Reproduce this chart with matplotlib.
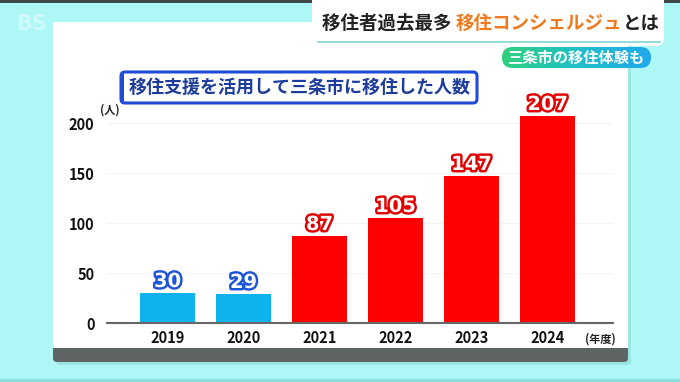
import numpy as np
import matplotlib
matplotlib.use('Agg')
import matplotlib.pyplot as plt
from matplotlib.patches import FancyBboxPatch, Rectangle
from matplotlib.colors import LinearSegmentedColormap
import matplotlib.patheffects as pe

plt.rcParams['font.family'] = ['Noto Sans CJK JP', 'DejaVu Sans']

# data
years = ['2019', '2020', '2021', '2022', '2023', '2024']
movers = [30, 29, 87, 105, 147, 207]
bar_colors = ['#0db2ef', '#0db2ef', '#fe0000', '#fe0000', '#fe0000', '#fe0000']
label_edges = ['#1d55d6', '#1d55d6', '#e00000', '#e00000', '#e00000', '#e00000']
yticks = [0, 50, 100, 150, 200]

headline_black = '移住者過去最多 '
headline_orange = '移住コンシェルジュ'
headline_tail = 'とは'
sub_caption = '三条市の移住体験も'
chart_title = '移住支援を活用して三条市に移住した人数'

W, H = 680, 382
fig = plt.figure(figsize=(W / 100, H / 100), dpi=100)
fig.patch.set_facecolor('#aef7f7')

# background layer in pixel coordinates (y downwards)
bg = fig.add_axes([0, 0, 1, 1])
bg.set_xlim(0, W)
bg.set_ylim(H, 0)
bg.axis('off')

bg.add_patch(Rectangle((0, 0), W, 3, color='#3e4848', lw=0))
bg.add_patch(Rectangle((0, 379), W, 3, color='#8ee0e0', lw=0))
bg.text(16, 24, 'BS', fontsize=15, fontweight='bold', color='white', alpha=0.4,
        va='center', ha='left', family='DejaVu Sans')

# panel shadow + gray foot + white panel
bg.add_patch(FancyBboxPatch((56, 25), 575, 340, boxstyle='round,pad=0,rounding_size=4',
                            fc='#8fd9d9', ec='none', alpha=0.6))
bg.add_patch(FancyBboxPatch((53, 22), 575, 340, boxstyle='round,pad=0,rounding_size=4',
                            fc='#5d6463', ec='none'))
bg.add_patch(Rectangle((53, 22), 575, 326, fc='white', ec='none'))

# headline box top right
bg.add_patch(FancyBboxPatch((312, -10), 352, 56, boxstyle='round,pad=0,rounding_size=8',
                            fc='white', ec='none'))
bg.plot([318, 660], [42, 42], color='#7fd6d6', lw=1.2)
fs_head = 13.3
t1 = bg.text(322, 23, headline_black, fontsize=fs_head, fontweight='bold', color='#222222',
             va='center', ha='left')
fig.canvas.draw()
inv = bg.transData.inverted()
x_next = inv.transform((t1.get_window_extent().x1, 0))[0]
t2 = bg.text(x_next, 23, headline_orange, fontsize=fs_head, fontweight='bold', color='#f07a1e',
             va='center', ha='left')
fig.canvas.draw()
x_next = inv.transform((t2.get_window_extent().x1, 0))[0]
bg.text(x_next, 23, headline_tail, fontsize=fs_head, fontweight='bold', color='#222222',
        va='center', ha='left')

# sub caption pill with gradient
pill = FancyBboxPatch((502, 47), 149, 21, boxstyle='round,pad=0,rounding_size=10.5',
                      fc='none', ec='none')
bg.add_patch(pill)
grad = np.linspace(0, 1, 256).reshape(1, -1)
cm = LinearSegmentedColormap.from_list('pill', ['#2fd07a', '#1fc0c8', '#21a8ec'])
im = bg.imshow(grad, extent=(502, 651, 68, 47), cmap=cm, aspect='auto', zorder=2)
im.set_clip_path(pill)
bg.set_xlim(0, W)
bg.set_ylim(H, 0)
bg.text(576, 57.5, sub_caption, fontsize=11, fontweight='bold', color='white',
        va='center', ha='center', zorder=3)

# chart title box
bg.add_patch(FancyBboxPatch((121, 72), 356, 31, boxstyle='round,pad=0,rounding_size=4',
                            fc='white', ec='#1f4bd8', lw=2.2))
bg.add_patch(Rectangle((121, 73), 3, 29, fc='#1f4bd8', ec='none'))
bg.text(300, 87.5, chart_title, fontsize=13, fontweight='bold', color='#1d3c9c',
        va='center', ha='center')

# main chart
ax = fig.add_axes([107 / W, (H - 323) / H, 506 / W, 215 / H])
ax.set_facecolor('none')
x = np.arange(len(years))
ax.bar(x, movers, width=0.72, color=bar_colors, zorder=2)
ax.set_xlim(-0.796, 5.86)
ax.set_ylim(0, 215)
ax.set_yticks(yticks)
ax.set_yticklabels([str(v) for v in yticks], fontsize=10.5, fontweight='bold', color='#111111')
ax.set_xticks(x)
ax.set_xticklabels(years, fontsize=10.5, fontweight='bold', color='#111111')
ax.tick_params(length=0, axis='y', pad=9)
ax.tick_params(length=0, axis='x', pad=5)
for s in ['top', 'right', 'left']:
    ax.spines[s].set_visible(False)
ax.spines['bottom'].set_color('#666666')
ax.spines['bottom'].set_linewidth(1.5)
ax.grid(axis='y', color='#f3f3f3', lw=0.8, zorder=0)
ax.set_axisbelow(True)

for xi, v, ec in zip(x, movers, label_edges):
    ax.text(xi, v + 2, str(v), ha='center', va='bottom', fontsize=14, fontweight='bold',
            color='white', family='DejaVu Sans',
            path_effects=[pe.Stroke(linewidth=3.5, foreground=ec), pe.Normal()])

bg.text(100, 110, '(人)', fontsize=8, fontweight='bold', color='#222222', va='center', ha='left')
bg.text(585, 339, '(年度)', fontsize=8, fontweight='bold', color='#222222', va='center', ha='left')

fig.savefig('out.png', dpi=100)
